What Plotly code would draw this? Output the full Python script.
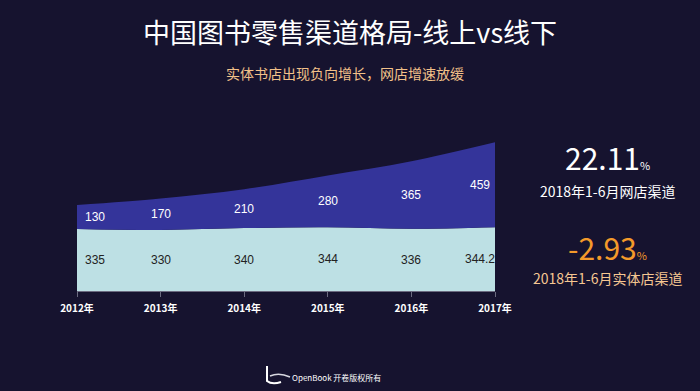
import plotly.graph_objects as go

years = ["2012年", "2013年", "2014年", "2015年", "2016年", "2017年"]
offline = [335, 330, 340, 344, 336, 344.2]
online = [130, 170, 210, 280, 365, 459]
offline_labels = ["335", "330", "340", "344", "336", "344.2"]
online_labels = ["130", "170", "210", "280", "365", "459"]

BG = "#16132f"
DARK = "#34349a"
LIGHT = "#bde0e4"
ORANGE = "#f49a2a"
FONT = "Noto Sans CJK SC"
W, H = 700, 391

xs = list(range(len(years)))
total = [a + b for a, b in zip(offline, online)]
n = len(xs)

fig = go.Figure()
fig.add_trace(go.Scatter(x=xs, y=offline, mode="lines", line=dict(width=0, shape="spline", color=LIGHT),
                         fill="tozeroy", fillcolor=LIGHT, hoverinfo="skip"))
fig.add_trace(go.Scatter(x=xs, y=total, mode="lines", line=dict(width=0, shape="spline", color=DARK),
                         fill="tonexty", fillcolor=DARK, hoverinfo="skip"))

for i in xs:
    shift = 18 if i == 0 else (-15 if i == n - 1 else 0)
    fig.add_annotation(x=i, y=offline[i] / 2, text=offline_labels[i], showarrow=False, xshift=shift,
                       font=dict(family="Liberation Sans", size=12, color="#222222"))
    fig.add_annotation(x=i, y=offline[i] + online[i] / 2, text=online_labels[i], showarrow=False, xshift=shift,
                       font=dict(family="Liberation Sans", size=12, color="#ffffff"))

texts = [
    dict(x=350, y=32, text="中国图书零售渠道格局-线上vs线下", size=27, color="#ffffff"),
    dict(x=345, y=73, text="实体书店出现负向增长，网店增速放缓", size=14, color="#f2c189"),
    dict(x=607, y=157, text="22.11<span style='font-size:11px'>%</span>", size=30, color="#ffffff"),
    dict(x=607, y=191, text="2018年1-6月网店渠道", size=14, color="#ffffff"),
    dict(x=607, y=247, text="-2.93<span style='font-size:11px'>%</span>", size=30, color=ORANGE),
    dict(x=607, y=278, text="2018年1-6月实体店渠道", size=14, color="#f6c792"),
    dict(x=336, y=377, text="OpenBook 开卷版权所有", size=8, color="#ffffff"),
]
for t in texts:
    fig.add_annotation(xref="paper", yref="paper", x=t["x"] / W, y=1 - t["y"] / H, text=t["text"],
                       showarrow=False, xanchor="center", yanchor="middle",
                       font=dict(family=FONT, size=t["size"], color=t["color"]))

# simple logo glyph near footer
def P(x, y):
    return "%f %f" % (x / W, 1 - y / H)

fig.add_shape(type="path", xref="paper", yref="paper",
              path="M %s L %s Q %s %s" % (P(267, 366), P(267, 381), P(272, 385), P(281, 382)),
              line=dict(color="#ffffff", width=2))
fig.add_shape(type="path", xref="paper", yref="paper",
              path="M %s Q %s %s" % (P(270, 376), P(279, 372), P(290, 377)),
              line=dict(color="#d8d8e0", width=1.5))

fig.update_layout(
    width=W, height=H,
    paper_bgcolor=BG, plot_bgcolor=BG,
    margin=dict(l=0, r=0, t=0, b=0, autoexpand=False),
    showlegend=False,
    xaxis=dict(domain=[77 / W, 495 / W], range=[0, n - 1], tickvals=xs, automargin=False,
               ticktext=["<b>%s</b>" % y for y in years],
               showgrid=False, zeroline=False, showline=True, linecolor="#6b6b80", linewidth=1,
               ticks="outside", ticklen=5, tickcolor="#6b6b80", ticklabelstandoff=3,
               tickfont=dict(family=FONT, size=10, color="#ffffff")),
    yaxis=dict(domain=[1 - 291 / H, 1 - 130 / H], range=[0, 870], visible=False, showgrid=False,
               automargin=False),
)

fig.write_html("out.html", config={"displayModeBar": False},
               post_script="document.body.style.margin='0';document.body.style.background='%s';" % BG)
